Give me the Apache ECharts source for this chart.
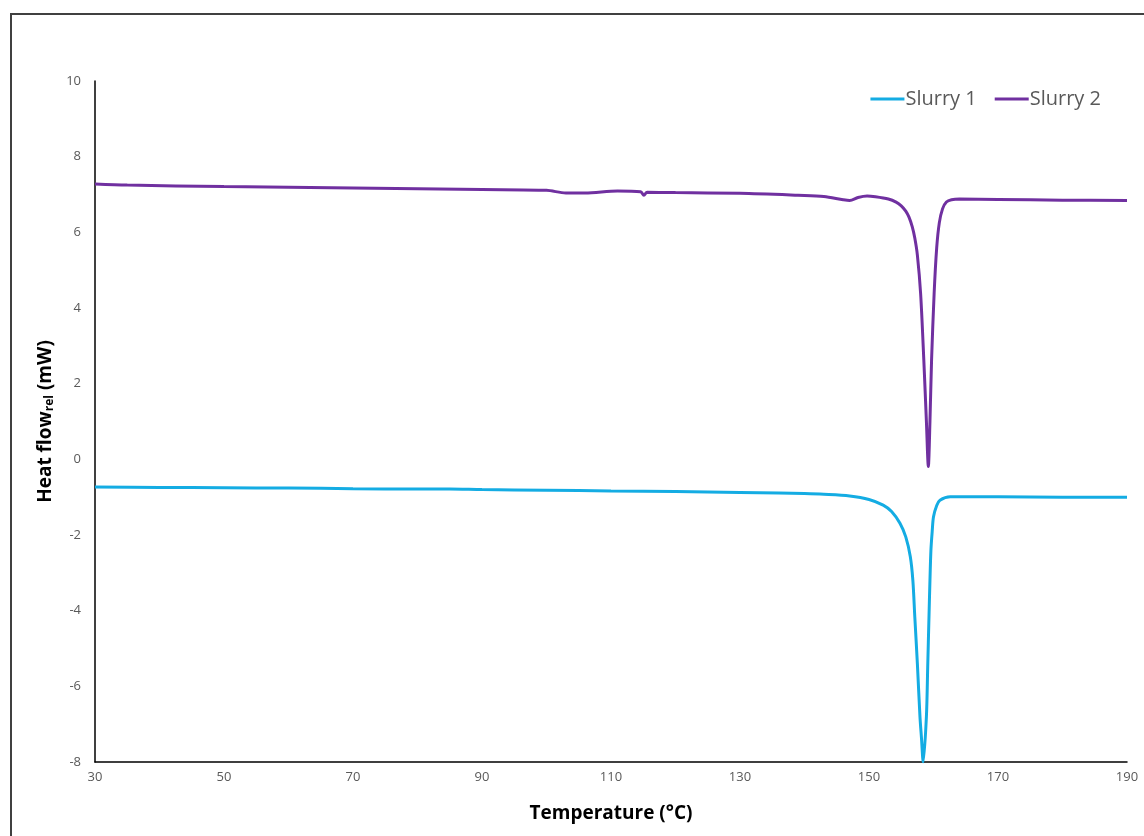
<!DOCTYPE html>
<html>
<head>
<meta charset="utf-8">
<script src="https://cdn.jsdelivr.net/npm/echarts@6/dist/echarts.min.js"></script>
<style>
html,body{margin:0;padding:0;background:#fff;overflow:hidden;}
#frame{position:absolute;left:10px;top:13px;width:1200px;height:900px;border:2px solid #404040;box-sizing:border-box;}
#chart{position:absolute;left:0;top:0;width:1144px;height:836px;}
</style>
</head>
<body>
<div id="frame"></div>
<div id="chart"></div>
<script>
const xTicks = [30, 50, 70, 90, 110, 130, 150, 170, 190];
const yTicks = [-8, -6, -4, -2, 0, 2, 4, 6, 8, 10];

const slurry1T = [30, 40, 50, 60, 70, 80, 85, 90, 100, 110, 120, 130, 136, 140, 143, 147, 150, 152.2, 153.5, 154.8, 155.7, 156.4, 156.8, 157.1, 157.5, 157.9, 158.15, 158.4, 158.9, 159.1, 159.3, 159.45, 159.6, 159.8, 160.0, 160.5, 161.0, 162.6, 170, 180, 190];
const slurry1V = [-0.73, -0.745, -0.75, -0.76, -0.775, -0.785, -0.785, -0.80, -0.815, -0.835, -0.85, -0.875, -0.89, -0.905, -0.925, -0.97, -1.06, -1.21, -1.38, -1.69, -2.05, -2.57, -3.2, -4.16, -5.4, -6.8, -7.4, -8.0, -6.8, -5.5, -4.16, -3.2, -2.4, -1.9, -1.52, -1.22, -1.08, -0.99, -0.99, -1.0, -1.0];

const slurry2T = [30, 35, 50, 70, 90, 100, 103, 106, 111, 114.6, 115.1, 115.6, 120, 130, 139, 143, 146, 147, 148.3, 149.7, 151, 153, 154.2, 155.0, 155.7, 156.2, 156.7, 157.1, 157.5, 158.0, 158.5, 158.9, 159.2, 159.45, 159.7, 160.1, 160.5, 160.9, 161.4, 162.0, 162.8, 164, 170, 180, 190];
const slurry2V = [7.28, 7.25, 7.21, 7.17, 7.13, 7.11, 7.04, 7.04, 7.09, 7.07, 6.98, 7.06, 7.05, 7.03, 6.98, 6.95, 6.86, 6.84, 6.92, 6.96, 6.94, 6.88, 6.80, 6.70, 6.56, 6.40, 6.15, 5.85, 5.4, 4.39, 2.62, 1.0, -0.19, 1.0, 2.62, 4.39, 5.6, 6.25, 6.62, 6.80, 6.86, 6.88, 6.87, 6.85, 6.84];

const pairs = (t, v) => t.map((x, i) => [x, v[i]]);

const chart = echarts.init(document.getElementById('chart'), null, {renderer: 'canvas'});
const tickColor = '#595959';
chart.setOption({
  animation: false,
  backgroundColor: 'transparent',
  grid: {left: 95, right: 17, top: 81, bottom: 74, containLabel: false},
  legend: {
    right: 38, top: 84,
    icon: 'rect', itemWidth: 34, itemHeight: 3, itemGap: 18,
    textStyle: {color: tickColor, fontSize: 20, fontFamily: 'Open Sans', padding: [0, 0, 0, -4]},
    data: ['Slurry 1', 'Slurry 2']
  },
  xAxis: {
    type: 'value', min: 30, max: 190, interval: 20,
    name: 'Temperature (°C)', nameLocation: 'middle', nameGap: 42,
    nameTextStyle: {color: '#000', fontSize: 19, fontWeight: 'bold', fontFamily: 'Open Sans'},
    axisLine: {show: true, onZero: false, lineStyle: {color: '#000', width: 1.5}},
    axisTick: {show: false}, splitLine: {show: false},
    axisLabel: {color: tickColor, fontSize: 13, fontFamily: 'Open Sans', margin: 9,
      customValues: xTicks, formatter: v => String(v)}
  },
  yAxis: {
    type: 'value', min: -8, max: 10, interval: 2,
    name: '{a|Heat flow}{b|rel}{a| (mW)}', nameLocation: 'middle', nameGap: 37, nameRotate: 90,
    nameTextStyle: {
      rich: {
        a: {color: '#000', fontSize: 19, fontWeight: 'bold', fontFamily: 'Open Sans', verticalAlign: 'bottom', lineHeight: 24},
        b: {color: '#000', fontSize: 12, fontWeight: 'bold', fontFamily: 'Open Sans', verticalAlign: 'bottom', lineHeight: 20}
      }
    },
    axisLine: {show: true, onZero: false, lineStyle: {color: '#000', width: 1.5}},
    axisTick: {show: false}, splitLine: {show: false},
    axisLabel: {color: tickColor, fontSize: 13, fontFamily: 'Open Sans', margin: 14,
      customValues: yTicks, formatter: v => String(v)}
  },
  series: [
    {name: 'Slurry 1', type: 'line', data: pairs(slurry1T, slurry1V), showSymbol: false, smooth: 0.3,
      color: '#14ACE3', lineStyle: {width: 3, color: '#14ACE3'}, z: 3},
    {name: 'Slurry 2', type: 'line', data: pairs(slurry2T, slurry2V), showSymbol: false, smooth: 0.3,
      color: '#7030A0', lineStyle: {width: 3, color: '#7030A0'}, z: 4}
  ]
});
</script>
</body>
</html>
